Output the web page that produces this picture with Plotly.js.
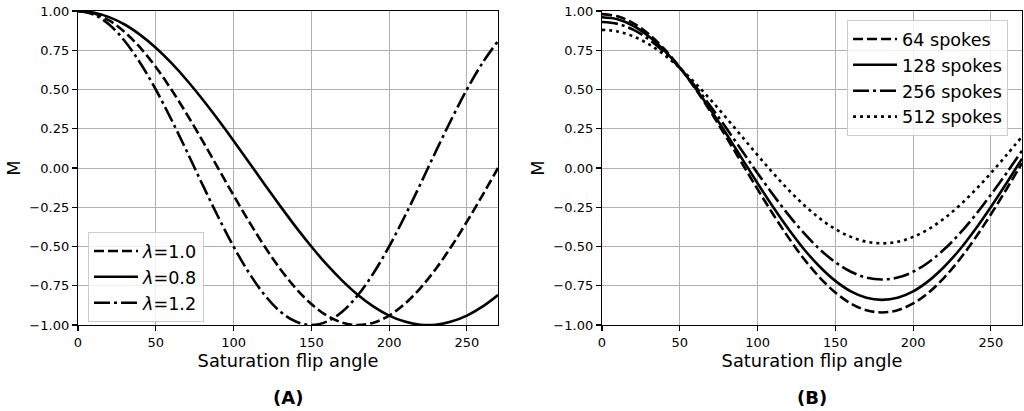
<!DOCTYPE html>
<html>
<head>
<meta charset="utf-8">
<script src="https://cdn.plot.ly/plotly-3.0.1.min.js"></script>
<style>html,body{margin:0;padding:0;background:#fff;}#chart{width:1024px;height:411px;}</style>
</head>
<body>
<div id="chart"></div>
<script>
// Flip angle samples (degrees)
const angles = [0,10,20,30,40,50,60,70,80,90,100,110,120,130,140,150,160,170,180,190,200,210,220,230,240,250,260,270];

// Panel A: M vs flip angle for different lambda
const lambdaLabels = ["<i>λ</i>=1.0", "<i>λ</i>=0.8", "<i>λ</i>=1.2"];
const mLambda10 = [1,0.985,0.940,0.866,0.766,0.643,0.5,0.342,0.174,0,-0.174,-0.342,-0.5,-0.643,-0.766,-0.866,-0.940,-0.985,-1,-0.985,-0.940,-0.866,-0.766,-0.643,-0.5,-0.342,-0.174,0];
const mLambda08 = [1,0.990,0.961,0.914,0.848,0.766,0.669,0.559,0.438,0.309,0.174,0.035,-0.105,-0.242,-0.375,-0.5,-0.616,-0.719,-0.809,-0.883,-0.940,-0.978,-0.998,-0.998,-0.978,-0.940,-0.883,-0.809];
const mLambda12 = [1,0.978,0.914,0.809,0.669,0.5,0.309,0.105,-0.105,-0.309,-0.5,-0.669,-0.809,-0.914,-0.978,-1,-0.978,-0.914,-0.809,-0.669,-0.5,-0.309,-0.105,0.105,0.309,0.5,0.669,0.809];

// Panel B: M vs flip angle for different numbers of spokes
const spokeLabels = ["64 spokes", "128 spokes", "256 spokes", "512 spokes"];
const m64 = [0.98,0.966,0.923,0.853,0.758,0.641,0.505,0.355,0.195,0.03,-0.135,-0.295,-0.445,-0.581,-0.698,-0.793,-0.863,-0.906,-0.92,-0.906,-0.863,-0.793,-0.698,-0.581,-0.445,-0.295,-0.135,0.03];
const m128 = [0.96,0.947,0.906,0.839,0.749,0.639,0.51,0.368,0.217,0.06,-0.097,-0.248,-0.39,-0.519,-0.629,-0.719,-0.786,-0.827,-0.84,-0.827,-0.786,-0.719,-0.629,-0.519,-0.39,-0.248,-0.097,0.06];
const m256 = [0.93,0.918,0.881,0.820,0.738,0.637,0.52,0.390,0.253,0.11,-0.033,-0.170,-0.30,-0.417,-0.518,-0.600,-0.661,-0.698,-0.71,-0.698,-0.661,-0.600,-0.518,-0.417,-0.30,-0.170,-0.033,0.11];
const m512 = [0.88,0.870,0.839,0.789,0.721,0.637,0.54,0.433,0.318,0.20,0.082,-0.033,-0.14,-0.237,-0.321,-0.389,-0.439,-0.470,-0.48,-0.470,-0.439,-0.389,-0.321,-0.237,-0.14,-0.033,0.082,0.20];

const xTicks = [0,50,100,150,200,250];
const yTicks = [-1,-0.75,-0.5,-0.25,0,0.25,0.5,0.75,1];

const FONT = "DejaVu Sans, Verdana, sans-serif";
const DASHED = "10px,4px";
const DASHDOT = "16px,4px,3px,4px";
const DOTTED = "3px,4px";
const LW = 2.6;

function tr(y, name, dash, xa, ya, leg) {
  return {x: angles, y: y, name: name, type: "scatter", mode: "lines",
    line: {color: "#000", width: LW, dash: dash, shape: "spline", smoothing: 1},
    xaxis: xa, yaxis: ya, legend: leg, hoverinfo: "skip"};
}

const data = [
  tr(mLambda10, lambdaLabels[0], DASHED, "x", "y", "legend"),
  tr(mLambda08, lambdaLabels[1], "solid", "x", "y", "legend"),
  tr(mLambda12, lambdaLabels[2], DASHDOT, "x", "y", "legend"),
  tr(m64, spokeLabels[0], DASHED, "x2", "y2", "legend2"),
  tr(m128, spokeLabels[1], "solid", "x2", "y2", "legend2"),
  tr(m256, spokeLabels[2], DASHDOT, "x2", "y2", "legend2"),
  tr(m512, spokeLabels[3], DOTTED, "x2", "y2", "legend2")
];

function xax(domain, anchor) {
  return {domain: domain, anchor: anchor, range: [0, 270], tickvals: xTicks,
    showgrid: true, gridcolor: "#b0b0b0", gridwidth: 1, zeroline: false,
    showline: true, linecolor: "#000", linewidth: 1.2, mirror: true,
    ticks: "outside", ticklen: 5, tickwidth: 1.2, tickcolor: "#000",
    tickfont: {family: FONT, size: 13, color: "#000"},
    title: {text: "Saturation flip angle", font: {family: FONT, size: 17.8, color: "#000"}, standoff: 1}};
}
function yax(domain, anchor) {
  return {domain: domain, anchor: anchor, range: [-1, 1], tickvals: yTicks, tickformat: ".2f",
    showgrid: true, gridcolor: "#b0b0b0", gridwidth: 1, zeroline: false,
    showline: true, linecolor: "#000", linewidth: 1.2, mirror: true,
    ticks: "outside", ticklen: 5, tickwidth: 1.2, tickcolor: "#000",
    tickfont: {family: FONT, size: 13, color: "#000"},
    title: {text: "M", font: {family: FONT, size: 17.8, color: "#000"}, standoff: 4}};
}

const yDom = [86/411, 400/411];
const legendCommon = {xanchor: "left", yanchor: "top",
  bgcolor: "rgba(255,255,255,0.8)", bordercolor: "#cccccc", borderwidth: 1,
  font: {family: FONT, size: 17.6, color: "#000"}, tracegroupgap: 0, itemwidth: 44};
const layout = {
  width: 1024, height: 411,
  margin: {l: 0, r: 0, t: 0, b: 0},
  paper_bgcolor: "#fff", plot_bgcolor: "#fff",
  font: {family: FONT, color: "#000"},
  showlegend: true,
  xaxis: xax([78/1024, 498/1024], "y"),
  yaxis: yax(yDom, "x"),
  xaxis2: xax([602/1024, 1022/1024], "y2"),
  yaxis2: yax(yDom, "x2"),
  legend: Object.assign({x: 88/1024, y: (411-232)/411}, legendCommon),
  legend2: Object.assign({x: 847/1024, y: (411-20)/411}, legendCommon),
  annotations: [
    {text: "<b>(A)</b>", x: 288/1024, y: (411-397)/411, xref: "paper", yref: "paper",
     xanchor: "center", yanchor: "middle", showarrow: false, font: {family: FONT, size: 18, color: "#000"}},
    {text: "<b>(B)</b>", x: 812/1024, y: (411-397)/411, xref: "paper", yref: "paper",
     xanchor: "center", yanchor: "middle", showarrow: false, font: {family: FONT, size: 18, color: "#000"}}
  ]
};

Plotly.newPlot("chart", data, layout, {displayModeBar: false, staticPlot: true});
</script>
</body>
</html>
